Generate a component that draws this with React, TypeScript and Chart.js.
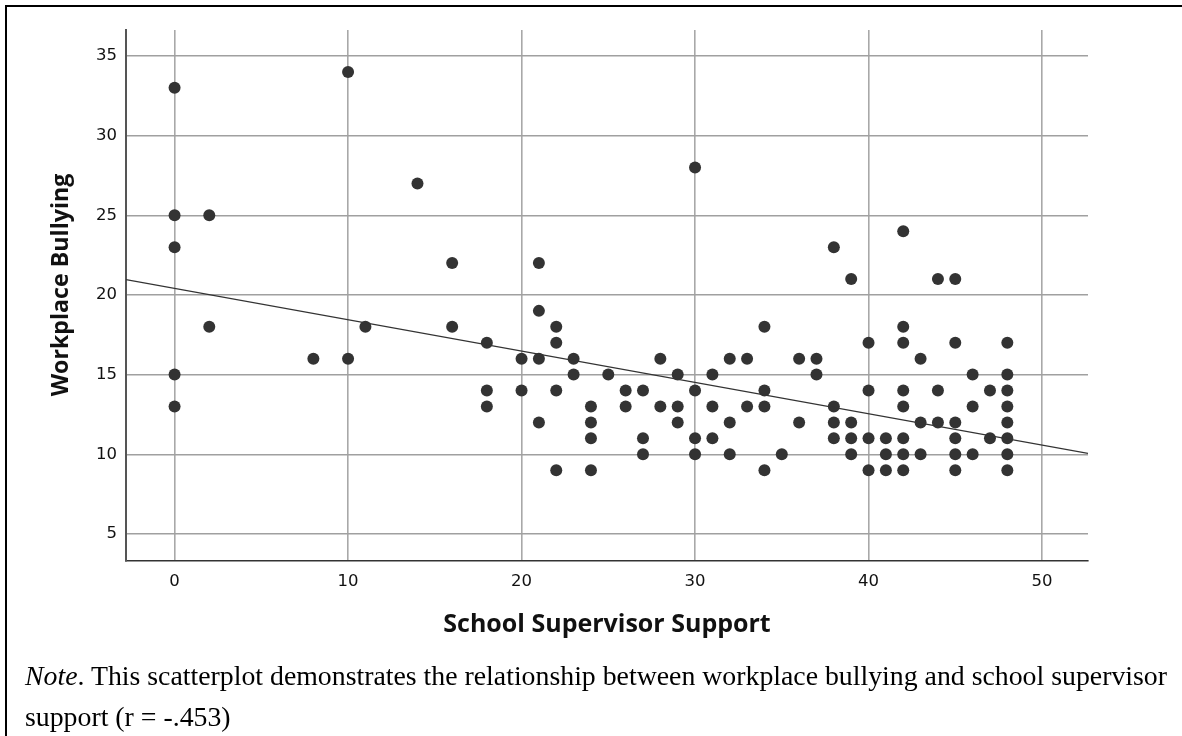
import React, { useEffect, useRef } from "react";
import { Chart, registerables } from "chart.js";

Chart.register(...registerables);

// School Supervisor Support levels (x) and the Workplace Bullying scores observed at each level (y)
const SUPPORT_LEVELS = [0, 2, 8, 10, 11, 14, 16, 18, 20, 21, 22, 23, 24, 25, 26, 27, 28, 29, 30, 31, 32, 33, 34, 35, 36, 37, 38, 39, 40, 41, 42, 43, 44, 45, 46, 47, 48];
const BULLYING_AT_LEVEL = [
  [33, 25, 23, 15, 13],
  [25, 18],
  [16],
  [34, 16],
  [18],
  [27],
  [22, 18],
  [17, 14, 13],
  [16, 14],
  [22, 19, 16, 12],
  [18, 17, 14, 9],
  [16, 15],
  [13, 12, 11, 9],
  [15],
  [14, 13],
  [14, 11, 10],
  [16, 13],
  [15, 13, 12],
  [28, 14, 11, 10],
  [15, 13, 11],
  [16, 12, 10],
  [16, 13],
  [18, 14, 13, 9],
  [10],
  [16, 12],
  [16, 15],
  [23, 13, 12, 11],
  [21, 12, 11, 10],
  [17, 14, 11, 9],
  [11, 10, 9],
  [24, 18, 17, 14, 13, 11, 10, 9],
  [16, 12, 10],
  [21, 14, 12],
  [21, 17, 12, 11, 10, 9],
  [15, 13, 10],
  [14, 11],
  [17, 15, 14, 13, 12, 11, 10, 9],
];

// Fit line (intercept at x = 0, slope)
const FIT_INTERCEPT = 20.41;
const FIT_SLOPE = -0.1966;

const X_TICKS = [0, 10, 20, 30, 40, 50];
const Y_TICKS = [5, 10, 15, 20, 25, 30, 35];
const X_MIN = -2.8;
const X_MAX = 52.65;
const Y_MIN = 3.3;
const Y_MAX = 36.63;

const X_TITLE = "School Supervisor Support";
const Y_TITLE = "Workplace Bullying";

const POINTS = SUPPORT_LEVELS.flatMap((x, i) => BULLYING_AT_LEVEL[i].map((y) => ({ x, y })));
const FIT_LINE = [X_MIN, X_MAX].map((x) => ({ x, y: FIT_INTERCEPT + FIT_SLOPE * x }));

const axisTitles = {
  id: "axisTitles",
  afterDraw(chart: any) {
    const { ctx, chartArea } = chart;
    ctx.save();
    ctx.fillStyle = "#111";
    ctx.textAlign = "center";
    ctx.textBaseline = "alphabetic";
    ctx.font = 'bold 25px "Open Sans"';
    ctx.fillText(X_TITLE, (chartArea.left + chartArea.right) / 2, chartArea.bottom + 71);
    ctx.translate(chartArea.left - 58, chartArea.top + 255);
    ctx.rotate(-Math.PI / 2);
    ctx.font = 'bold 23.2px "Open Sans"';
    ctx.fillText(Y_TITLE, 0, 0);
    ctx.restore();
  },
};

export default function App() {
  const ref = useRef<HTMLCanvasElement>(null);

  useEffect(() => {
    if (!ref.current) return;
    const tickFont = { family: '"DejaVu Sans"', size: 16.5 };
    const chart = new Chart(ref.current, {
      type: "scatter",
      data: {
        datasets: [
          {
            type: "line",
            data: FIT_LINE,
            borderColor: "#333",
            borderWidth: 1.3,
            pointRadius: 0,
            fill: false,
          } as any,
          {
            data: POINTS,
            backgroundColor: "#333333",
            borderWidth: 0,
            pointRadius: 6,
            pointHoverRadius: 6,
          },
        ],
      },
      options: {
        responsive: false,
        animation: false,
        layout: { padding: { top: 30, right: 94, left: 0, bottom: 0 } },
        plugins: { legend: { display: false }, tooltip: { enabled: false }, title: { display: false } },
        scales: {
          x: {
            type: "linear",
            min: X_MIN,
            max: X_MAX,
            afterBuildTicks: (s: any) => {
              s.ticks = X_TICKS.map((value) => ({ value }));
            },
            afterFit: (s: any) => {
              s.height = 175;
            },
            ticks: { font: tickFont, color: "#111", padding: 11 },
            grid: { color: "#a8a8a8", lineWidth: 1.6, drawTicks: false },
            border: { display: true, color: "#333", width: 1.6 },
          },
          y: {
            type: "linear",
            min: Y_MIN,
            max: Y_MAX,
            afterBuildTicks: (s: any) => {
              s.ticks = Y_TICKS.map((value) => ({ value }));
            },
            afterFit: (s: any) => {
              s.width = 126;
            },
            ticks: { font: tickFont, color: "#111", padding: 9 },
            grid: { color: "#a0a0a0", lineWidth: 1.5, drawTicks: false },
            border: { display: true, color: "#555", width: 2 },
          },
        },
      },
      plugins: [axisTitles],
    });
    return () => chart.destroy();
  }, []);

  return (
    <div style={{ position: "absolute", left: 0, top: 0, width: 1182, height: 736, overflow: "hidden", background: "#fff" }}>
      <canvas ref={ref} width={1182} height={736} style={{ position: "absolute", left: 0, top: 0, display: "block" }} />
      <div
        style={{
          position: "absolute",
          left: 5,
          top: 5,
          width: 1300,
          height: 800,
          borderTop: "2px solid #000",
          borderLeft: "2px solid #000",
          pointerEvents: "none",
        }}
      />
      <div
        style={{
          position: "absolute",
          left: 25,
          top: 655,
          width: 1160,
          fontFamily: '"Liberation Serif", "Times New Roman", serif',
          fontSize: 27.8,
          lineHeight: "41px",
          color: "#000",
          whiteSpace: "nowrap",
        }}
      >
        <i>Note</i>. This scatterplot demonstrates the relationship between workplace bullying and school supervisor
        <br />
        support (r = -.453)
      </div>
    </div>
  );
}
